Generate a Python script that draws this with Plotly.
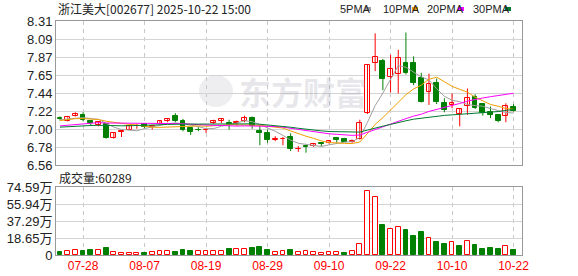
import plotly.graph_objects as go

# ---------------- data ----------------
dates = ["07-23", "07-24", "07-25", "07-28", "07-29", "07-30", "07-31", "08-01", "08-04", "08-05",
         "08-06", "08-07", "08-08", "08-11", "08-12", "08-13", "08-14", "08-15", "08-18", "08-19",
         "08-20", "08-21", "08-22", "08-25", "08-26", "08-27", "08-28", "08-29", "09-01", "09-02",
         "09-03", "09-04", "09-05", "09-08", "09-09", "09-10", "09-11", "09-12", "09-15", "09-16",
         "09-17", "09-18", "09-19", "09-22", "09-23", "09-24", "09-25", "09-26", "09-29", "09-30",
         "10-09", "10-10", "10-13", "10-14", "10-15", "10-16", "10-17", "10-20", "10-21", "10-22"]

open_ = [7.13, 7.10, 7.16, 7.17, 7.095, 7.05, 7.06, 6.89, 6.96, 6.99,
         7.03, 7.055, 7.02, 7.06, 7.09, 7.16, 7.10, 7.005, 6.99, 6.98,
         7.07, 7.10, 7.07, 7.07, 7.09, 7.13, 6.97, 6.95, 6.86, 6.87,
         6.90, 6.755, 6.79, 6.79, 6.83, 6.83, 6.89, 6.88, 6.84, 6.88,
         7.19, 7.80, 7.82, 7.63, 7.67, 7.80, 7.80, 7.62, 7.45, 7.56,
         7.31, 7.29, 7.18, 7.28, 7.39, 7.30, 7.21, 7.17, 7.15, 7.26]
close = [7.12, 7.14, 7.18, 7.11, 7.07, 7.08, 6.89, 6.95, 6.97, 7.03,
         7.04, 7.025, 7.03, 7.09, 7.12, 7.09, 6.98, 6.965, 6.98, 6.99,
         7.10, 7.12, 7.06, 7.08, 7.13, 7.04, 6.95, 6.86, 6.87, 6.88,
         6.75, 6.76, 6.78, 6.815, 6.82, 6.85, 6.86, 6.84, 6.85, 7.07,
         7.78, 7.87, 7.60, 7.73, 7.86, 7.68, 7.56, 7.32, 7.55, 7.32,
         7.23, 7.31, 7.24, 7.38, 7.25, 7.19, 7.17, 7.10, 7.28, 7.22]
high = [7.15, 7.14, 7.20, 7.20, 7.10, 7.09, 7.07, 6.96, 6.98, 7.04,
        7.06, 7.06, 7.04, 7.10, 7.13, 7.19, 7.12, 7.02, 7.02, 7.00,
        7.11, 7.12, 7.11, 7.10, 7.16, 7.15, 7.04, 6.99, 6.91, 6.90,
        6.945, 6.79, 6.79, 6.83, 6.84, 6.86, 6.89, 6.89, 6.87, 7.11,
        7.78, 8.16, 7.85, 7.90, 7.96, 8.17, 7.88, 7.68, 7.67, 7.61,
        7.37, 7.43, 7.25, 7.49, 7.42, 7.31, 7.27, 7.18, 7.31, 7.30]
low = [7.10, 7.09, 7.15, 7.09, 7.04, 7.03, 6.88, 6.88, 6.90, 6.99,
       7.00, 7.01, 6.99, 7.05, 7.08, 7.08, 6.97, 6.925, 6.97, 6.95,
       7.06, 7.07, 6.99, 7.04, 7.08, 7.00, 6.80, 6.83, 6.85, 6.80,
       6.73, 6.72, 6.71, 6.78, 6.79, 6.82, 6.83, 6.84, 6.83, 6.87,
       7.18, 7.70, 7.47, 7.44, 7.43, 7.66, 7.53, 7.32, 7.29, 7.30,
       7.20, 7.25, 7.03, 7.17, 7.24, 7.16, 7.13, 7.08, 7.08, 7.21]
# volume in 万 (10k lots)
volume = [3.3, 4.0, 5.1, 4.4, 5.5, 5.1, 7.7, 2.9, 2.2, 2.2,
          2.2, 2.2, 2.9, 4.0, 4.0, 3.3, 5.5, 4.4, 4.0, 4.0,
          4.0, 4.0, 6.6, 6.6, 6.6, 7.7, 8.8, 5.5, 2.9, 4.0,
          5.5, 2.9, 4.0, 2.9, 2.2, 2.9, 2.9, 2.2, 4.0, 11.7,
          69.9, 63.3, 32.9, 28.2, 30.4, 27.4, 20.8, 25.2, 18.3, 14.3,
          12.1, 13.9, 9.9, 15.0, 11.0, 6.6, 7.7, 6.6, 9.9, 6.0289]
# closes of the 29 sessions before the window (estimated from the starting MA levels)
prior_close = [6.95, 6.97, 7.00, 6.98, 7.01, 7.02, 6.99, 6.98, 7.00, 7.00,
               6.96, 6.94, 6.95, 6.97, 6.96, 6.98, 6.97, 6.99, 6.98, 7.00,
               7.03, 7.06, 7.10, 7.13, 7.13, 7.10, 7.10, 7.10, 7.13]

price_ticks = ["6.56", "6.78", "7.00", "7.22", "7.44", "7.65", "7.87", "8.09", "8.31"]
price_min, price_max = 6.56, 8.31
vol_ticks = ["0", "18.65万", "37.29万", "55.94万", "74.59万"]
vol_max = 74.59
date_ticks = ["07-28", "08-07", "08-19", "08-29", "09-10", "09-22", "10-10", "10-22"]
ma_periods = [5, 10, 20, 30]
ma_colors = ["#a0a0a0", "#f0a000", "#ff00ff", "#007a30"]
title_text = "浙江美大[002677] 2025-10-22 15:00"
last_volume = "60289"

# ---------------- style ----------------
RED = "#ff0000"
GREEN = "#008000"
W, H = 578, 276
L, R, T, B = 56, 522, 21, 255
def px(x):
    return (x - L) / (R - L)
def py(y):
    return (B - y) / (B - T)

idx = list(range(len(dates)))
full = prior_close + close
off = len(prior_close)

fig = go.Figure()

# wicks
for color, cond in ((RED, lambda i: close[i] >= open_[i]), (GREEN, lambda i: close[i] < open_[i])):
    xs, ys = [], []
    for i in idx:
        if cond(i):
            xs += [i, i, None]
            ys += [low[i], high[i], None]
    fig.add_trace(go.Scatter(x=xs, y=ys, mode="lines", line=dict(color=color, width=1),
                             hoverinfo="skip", showlegend=False, xaxis="x", yaxis="y"))

# bodies
for up in (True, False):
    sel = [i for i in idx if (close[i] >= open_[i]) == up]
    base = [min(open_[i], close[i]) for i in sel]
    hgt = [max(abs(close[i] - open_[i]), 0.002) for i in sel]
    fig.add_trace(go.Bar(x=sel, y=hgt, base=base, width=0.62,
                         marker=dict(color="white" if up else GREEN,
                                     line=dict(color=RED if up else GREEN, width=1)),
                         hoverinfo="skip", showlegend=False, xaxis="x", yaxis="y"))

# moving averages
for n, col in zip(ma_periods, ma_colors):
    ma = [sum(full[off + i - n + 1: off + i + 1]) / n for i in idx]
    fig.add_trace(go.Scatter(x=idx, y=ma, mode="lines", line=dict(color=col, width=1),
                             hoverinfo="skip", showlegend=False, xaxis="x", yaxis="y"))

# volume (colour by change vs previous close)
prev = [full[off + i - 1] for i in idx]
for up in (True, False):
    sel = [i for i in idx if (close[i] >= prev[i]) == up]
    fig.add_trace(go.Bar(x=sel, y=[volume[i] for i in sel], width=0.62,
                         marker=dict(color="white" if up else GREEN,
                                     line=dict(color=RED if up else GREEN, width=1)),
                         hoverinfo="skip", showlegend=False, xaxis="x2", yaxis="y2"))

tickvals_x = [dates.index(d) for d in date_ticks]
step = (price_max - price_min) / (len(price_ticks) - 1)
vstep = vol_max / (len(vol_ticks) - 1)

axis_common = dict(showline=True, mirror=True, linecolor="#999999", linewidth=1,
                   zeroline=False, ticks="", fixedrange=True, automargin=False)
xrange = [-0.52, 60.1]
tickfont = dict(family="Liberation Sans, Noto Sans CJK SC", size=13, color="#222222")

fig.update_layout(
    width=W, height=H, autosize=False,
    margin=dict(l=L, r=W - R, t=T, b=H - B, pad=0),
    paper_bgcolor="white", plot_bgcolor="white",
    barmode="overlay", bargap=0, showlegend=False,
    xaxis=dict(domain=[0, 1], range=xrange, anchor="y", tickvals=tickvals_x,
               showticklabels=False, showgrid=True, gridcolor="#c8c8c8",
               griddash="4px,4px", **axis_common),
    yaxis=dict(domain=[py(165), 1], range=[price_min, price_max],
               tickvals=[price_min + k * step for k in range(len(price_ticks))],
               ticktext=price_ticks, showgrid=True, gridcolor="#d4d4d4",
               tickfont=tickfont, **axis_common),
    xaxis2=dict(domain=[0, 1], range=xrange, anchor="y2", matches="x", tickvals=tickvals_x,
                ticktext=date_ticks, showgrid=True, gridcolor="#c8c8c8", griddash="4px,4px",
                tickfont=dict(family="Liberation Sans", size=12, color="#ff0000"), **axis_common),
    yaxis2=dict(domain=[0, py(187)], range=[0, vol_max],
                tickvals=[k * vstep for k in range(len(vol_ticks))], ticktext=vol_ticks,
                showgrid=True, gridcolor="#d4d4d4", tickfont=tickfont, **axis_common),
)

ann = []
# title
ann.append(dict(x=px(56), y=py(9), xref="paper", yref="paper", xanchor="left", yanchor="middle",
                text=title_text, showarrow=False,
                font=dict(family="Noto Sans CJK SC", size=12, color="#222222")))
# legend
leg_x = [338, 381, 425, 471]
sq_x = [368, 415, 461, 508]
shapes = []
for n, col, lx, sx in zip(ma_periods, ma_colors, leg_x, sq_x):
    ann.append(dict(x=px(lx), y=py(9), xref="paper", yref="paper", xanchor="left", yanchor="middle",
                    text=f"{n}PMA", showarrow=False,
                    font=dict(family="Liberation Sans", size=11, color="#222222")))
    shapes.append(dict(type="rect", xref="paper", yref="paper", x0=px(sx - 3), x1=px(sx + 3),
                       y0=py(11), y1=py(7), fillcolor=col, line=dict(width=0)))
# volume title
ann.append(dict(x=px(57), y=py(177), xref="paper", yref="paper", xanchor="left", yanchor="middle",
                text="成交量:" + last_volume, showarrow=False,
                font=dict(family="Noto Sans CJK SC", size=12, color="#222222")))
# watermark
ann.append(dict(x=px(303), y=py(91), xref="paper", yref="paper", xanchor="center", yanchor="middle",
                text="<b>东方财富</b>", showarrow=False,
                font=dict(family="Noto Sans CJK SC", size=32, color="rgba(160,160,175,0.25)")))
shapes.append(dict(type="circle", xref="paper", yref="paper", layer="below",
                   x0=px(199), x1=px(233), y0=py(107), y1=py(75),
                   fillcolor="rgba(160,160,175,0.18)", line=dict(width=0)))

fig.update_layout(annotations=ann, shapes=shapes)
fig.write_html("out.html", config={"displayModeBar": False})
